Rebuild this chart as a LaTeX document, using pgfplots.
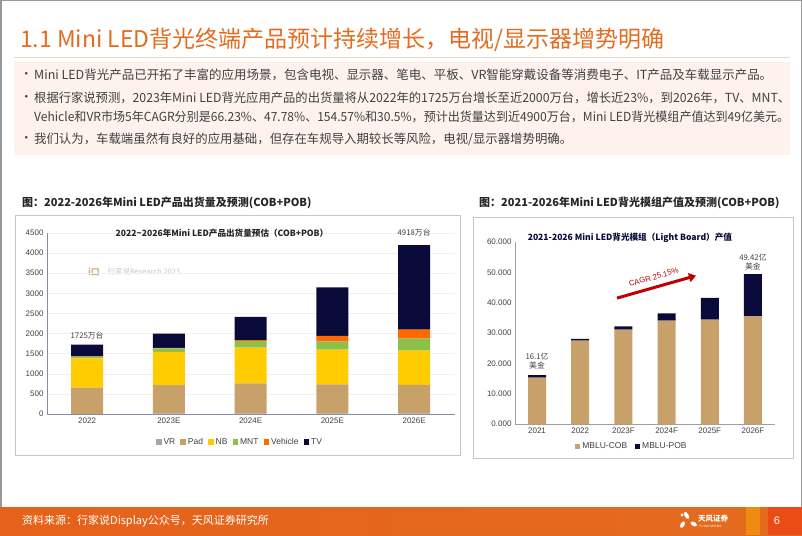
\documentclass[border=0pt]{standalone}
\usepackage{fontspec}
\setmainfont{Noto Sans CJK SC}
\newfontfamily\arial{Liberation Sans}
\usepackage{graphicx}
\usepackage{pgfplots}
\pgfplotsset{compat=1.18}
\usetikzlibrary{arrows.meta}
\definecolor{ttl}{HTML}{E36C1E}
\definecolor{peach}{HTML}{FDF3EC}
\definecolor{peachline}{HTML}{F3D5BE}
\definecolor{cVR}{HTML}{A6A6A6}
\definecolor{cPad}{HTML}{C8A06A}
\definecolor{cNB}{HTML}{FFCC00}
\definecolor{cMNT}{HTML}{8CC04A}
\definecolor{cVeh}{HTML}{FF6A00}
\definecolor{cTV}{HTML}{0A0A3A}
\definecolor{txt}{HTML}{404040}
\definecolor{axl}{HTML}{8A8AA0}
\definecolor{arr}{HTML}{C00000}
\newcommand\fitline[2]{\resizebox{#1}{\height}{#2}}
\begin{document}
\begin{tikzpicture}[x=1pt,y=1pt]
\path[use as bounding box] (0,0) rectangle (802,535);
% slide frame
\draw[gray!80, line width=1.5pt] (0.75,0.75) rectangle (801.25,534.25);
% title
\node[anchor=west, text=ttl, inner sep=0pt, font=\fontsize{23}{26}\selectfont] at (20,495) {1.1 Mini LED背光终端产品预计持续增长，电视/显示器增势明确};
\draw[peachline, line width=1pt] (14,477) -- (790,477);
% bullets box
\fill[peach] (14,473) rectangle (790,380);
\begin{scope}[every node/.style={anchor=west, inner sep=0pt, text=txt, font=\fontsize{12.5}{14}\selectfont}]
\node at (20,460) {•};
\node at (34,460) {\fitline{738pt}{Mini LED背光产品已开拓了丰富的应用场景，包含电视、显示器、笔电、平板、VR智能穿戴设备等消费电子、IT产品及车载显示产品。}};
\node at (20,437) {•};
\node at (34,437) {\fitline{756pt}{根据行家说预测，2023年Mini LED背光应用产品的出货量将从2022年的1725万台增长至近2000万台，增长近23\%，到2026年，TV、MNT、}};
\node at (34,418) {\fitline{755pt}{Vehicle和VR市场5年CAGR分别是66.23\%、47.78\%、154.57\%和30.5\%，预计出货量达到近4900万台，Mini LED背光模组产值达到49亿美元。}};
\node at (20,396) {•};
\node at (34,396) {\fitline{538pt}{我们认为，车载端虽然有良好的应用基础，但存在车规导入期较长等风险，电视/显示器增势明确。}};
\end{scope}
% captions
\node[anchor=west, inner sep=0pt, font=\fontsize{11}{13}\selectfont\bfseries, text=black!85] at (22,332) {图：2022-2026年Mini LED产品出货量及预测(COB+POB)};
\node[anchor=west, inner sep=0pt, font=\fontsize{11}{13}\selectfont\bfseries, text=black!85] at (479,332) {图：2021-2026年Mini LED背光模组产值及预测(COB+POB)};
% frames
\draw[gray!45, line width=0.8pt] (15,320) rectangle (460,80);
\draw[gray!45, line width=0.8pt] (473,318) rectangle (793,77);
% watermark
\node[anchor=west, text=gray!45, font=\fontsize{7.5}{9}\selectfont\itshape] at (104,263) {行家说Research 2023};
\node[anchor=center, text=cPad!80, font=\fontsize{9}{10}\selectfont\bfseries] at (94,263) {i口};

% LEFT CHART
\begin{axis}[at={(47pt,121pt)}, anchor=south west, scale only axis,
  width=408pt, height=181pt,
  ybar stacked, bar width=32pt,
  ymin=0, ymax=4500, ytick={0,500,...,4500},
  xmin=-0.49, xmax=4.5, enlargelimits=false,
  xtick={0,...,4}, xticklabels={2022,2023E,2024E,2025E,2026E},
  axis x line*=bottom, axis y line*=left,
  axis line style={color=axl, line width=0.7pt},
  major tick length=0pt,
  ymajorgrids, grid style={gray!12},
  tick label style={font=\arial\fontsize{8}{9}\selectfont, text=txt},
  /pgf/number format/assume math mode=true,
  /pgf/number format/set thousands separator={},
  clip=false,
  legend style={at={(0.473,-0.155)}, anchor=center, draw=none, fill=none,
    legend columns=6, font=\arial\fontsize{8.5}{9}\selectfont, text=txt,
    /tikz/every even column/.append style={column sep=3pt}},
  legend image code/.code={\fill[#1,draw=none] (0pt,-2.8pt) rectangle (5.6pt,2.8pt);},
]
\addplot[fill=cVR, draw=none] coordinates {(0,5) (1,8) (2,10) (3,12) (4,15)};
\addplot[fill=cPad, draw=none] coordinates {(0,650) (1,710) (2,750) (3,723) (4,712)};
\addplot[fill=cNB, draw=none] coordinates {(0,725) (1,826) (2,892) (3,867) (4,851)};
\addplot[fill=cMNT, draw=none] coordinates {(0,45) (1,90) (2,157) (3,199) (4,297)};
\addplot[fill=cVeh, draw=none] coordinates {(0,5) (1,10) (2,25) (3,140) (4,223)};
\addplot[fill=cTV, draw=none] coordinates {(0,295) (1,356) (2,578) (3,1206) (4,2102)};
\legend{VR,Pad,NB,MNT,Vehicle,TV}
\node[font=\fontsize{8.6}{9}\selectfont\bfseries, text=black!85] at (axis cs:1.65,4500) {2022\textasciitilde2026年Mini LED产品出货量预估（COB+POB）};
\node[font=\fontsize{7.8}{9}\selectfont, text=txt] at (axis cs:4,4500) {4918万台};
\node[font=\fontsize{7.8}{9}\selectfont, text=txt] at (axis cs:0,1940) {1725万台};
\end{axis}

% RIGHT CHART
\begin{axis}[at={(515pt,111pt)}, anchor=south west, scale only axis,
  width=260pt, height=182pt,
  ybar stacked, bar width=18pt,
  ymin=0, ymax=60, ytick={0,10,...,60},
  xmin=-0.51, xmax=5.51, enlargelimits=false,
  xtick={0,...,5}, xticklabels={2021,2022,2023F,2024F,2025F,2026F},
  axis x line*=bottom, axis y line*=left,
  axis line style={color=gray!75, line width=0.7pt},
  major tick length=0pt,
  tick label style={font=\arial\fontsize{8}{9}\selectfont, text=txt},
  /pgf/number format/assume math mode=true,
  yticklabel style={/pgf/number format/.cd, fixed, fixed zerofill, precision=3},
  clip=false,
  legend style={at={(0.45,-0.121)}, anchor=center, draw=none, fill=none,
    legend columns=2, font=\arial\fontsize{8.5}{9}\selectfont, text=txt,
    /tikz/every even column/.append style={column sep=6pt}},
  legend image code/.code={\fill[#1,draw=none] (0pt,-2.5pt) rectangle (5pt,2.5pt);},
]
\addplot[fill=cPad, draw=none] coordinates {(0,15.3) (1,27.5) (2,31.1) (3,34.1) (4,34.4) (5,35.5)};
\addplot[fill=cTV, draw=none] coordinates {(0,0.8) (1,0.6) (2,1.1) (3,2.4) (4,7.2) (5,13.9)};
\legend{MBLU-COB,MBLU-POB}
\node[font=\fontsize{8.6}{9}\selectfont\bfseries, text=cTV] at (axis cs:2.15,61.3) {2021-2026 Mini LED背光模组（Light Board）产值};
\node[font=\fontsize{7.8}{9}\selectfont, text=txt, align=center, inner sep=0pt] at (axis cs:5,53.3) {49.42亿\\美金};
\node[font=\fontsize{7.8}{9}\selectfont, text=txt, align=center, inner sep=0pt] at (axis cs:0,20.6) {16.1亿\\美金};
\draw[arr, line width=3pt, -{Triangle[length=7pt,width=9pt]}] (axis cs:1.85,41.5) -- (axis cs:3.68,48.9);
\node[rotate=16, text=arr, font=\arial\fontsize{7.8}{9}\selectfont] at (axis cs:2.7,48.4) {CAGR 25.15\%};
\end{axis}

% footer
\shade[left color=ttl!90!red, right color=ttl] (0,0) rectangle (802,28);
\fill[orange!60!yellow, opacity=0.45] (746,0) rectangle (760,28);
\fill[red!60!ttl, opacity=0.5] (768,0) rectangle (802,28);
\node[anchor=west, inner sep=0pt, text=white, font=\fontsize{11}{13}\selectfont] at (22,14) {资料来源：行家说Display公众号，天风证券研究所};
\node[anchor=center, text=white, font=\arial\fontsize{11}{13}\selectfont] at (777,14) {6};
% logo
\begin{scope}[white]
\fill[rotate around={30:(688,17)}] (688,20) ellipse (2pt and 4pt);
\fill[rotate around={-30:(684,13)}] (684,10) ellipse (2pt and 3.5pt);
\fill[rotate around={60:(692,12)}] (692,10) ellipse (2pt and 3.5pt);
\fill (682,20) circle (1.6pt);
\end{scope}
\node[anchor=west, inner sep=0pt, text=white, font=\fontsize{7.5}{8}\selectfont\bfseries] at (698,16) {天风证券};
\node[anchor=west, inner sep=0pt, text=white, font=\arial\fontsize{3}{4}\selectfont] at (699,9) {TF SECURITIES};
\end{tikzpicture}
\end{document}
